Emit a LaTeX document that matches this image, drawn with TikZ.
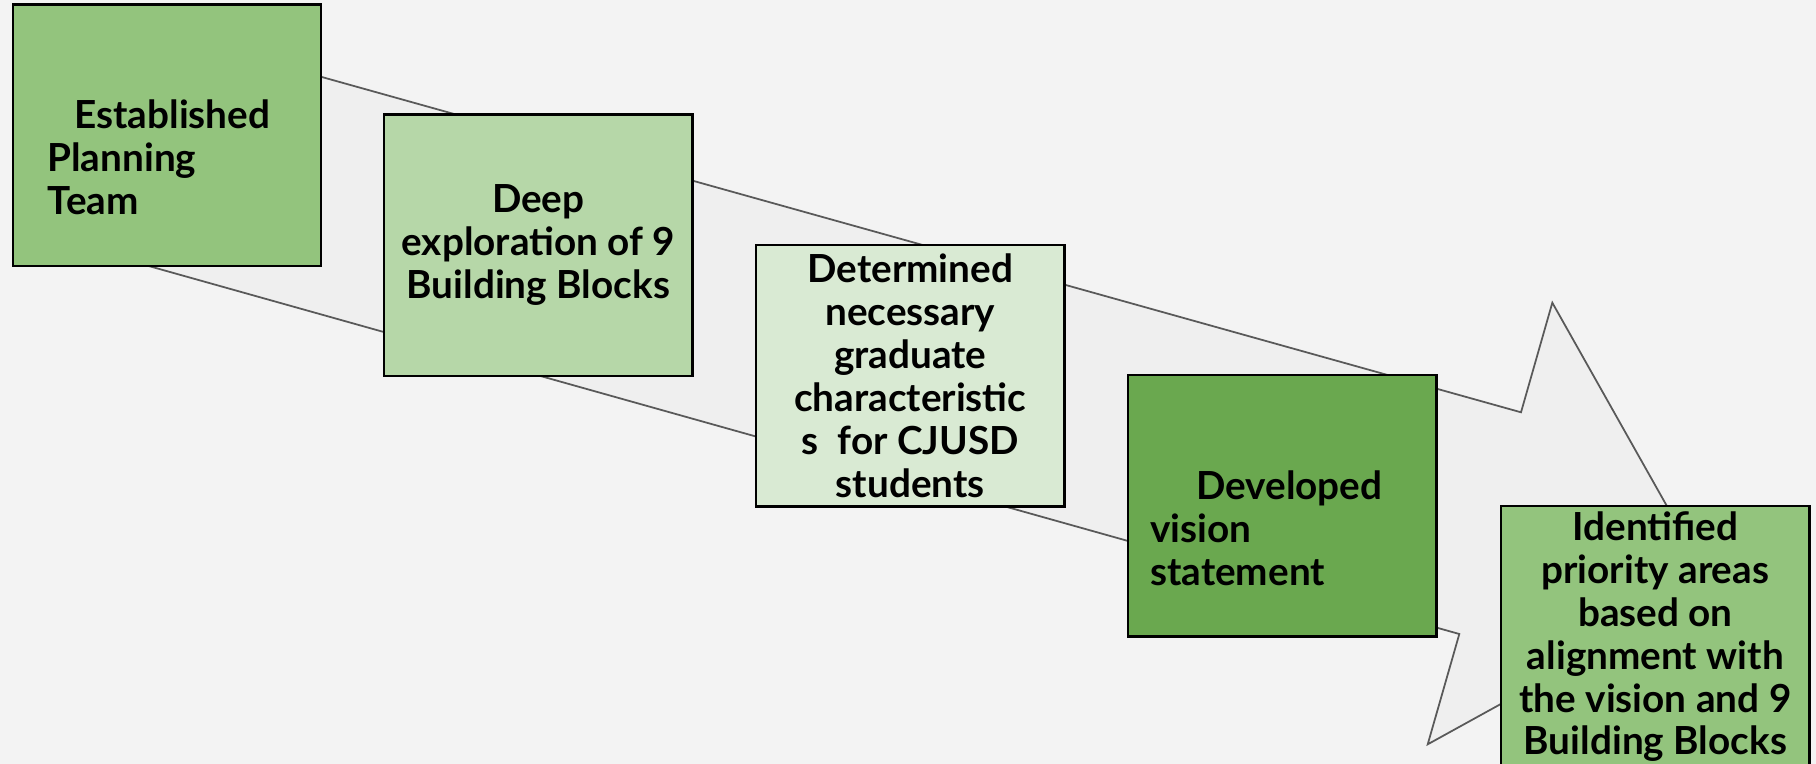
\documentclass[tikz,border=0pt]{standalone}
\usepackage{fontspec}
\setmainfont{Lato}
\usetikzlibrary{positioning}

\definecolor{bgGray}{HTML}{F3F3F3}
\definecolor{arrowFill}{HTML}{EFEFEF}
\definecolor{arrowLine}{HTML}{595959}
\definecolor{greenA}{HTML}{93C47D}
\definecolor{greenB}{HTML}{B6D7A8}
\definecolor{greenC}{HTML}{D9EAD3}
\definecolor{greenD}{HTML}{6AA84F}

\tikzset{
  stepbox/.style={draw=black, line width=0.7pt, anchor=north west,
    minimum width=3.08cm, minimum height=2.61cm, inner ysep=0pt,
    font=\bfseries\fontsize{11}{12.2}\selectfont},
  midbox/.style={stepbox, align=center, inner xsep=0pt},
  leftbox/.style={stepbox, align=left, inner xsep=#1, text width=3.08cm-2*#1},
}

\begin{document}
\begin{tikzpicture}[x=0.01cm, y=-0.01cm]
  \useasboundingbox (0,0) rectangle (1816,764);
  \clip (0,0) rectangle (1816,764);
  \fill[bgGray] (0,0) rectangle (1816,764);

  % Big arrow behind the steps
  \draw[arrowLine, fill=arrowFill, line width=0.5pt, line join=miter]
    (80,9.4) -- (1521,412.3) -- (1552.3,302.7) -- (1712.6,587.2)
    -- (1427.7,744.3) -- (1459.3,634) -- (18.3,229.4) -- cycle;

  % Steps
  \node[leftbox=0.346cm, fill=greenA] (plan) at (11.6,3.5)
    {\strut\\\hspace*{0.27cm}Established\\Planning\\Team};
  \node[midbox, fill=greenB] (blocks) at (383,113.5)
    {Deep\\exploration of 9\\Building Blocks};
  \node[midbox, fill=greenC] (grads) at (755,244)
    {Determined\\necessary\\graduate\\characteristic\\s\ \ for CJUSD\\students};
  \node[leftbox=0.22cm, fill=greenD] (vision) at (1127,374)
    {\strut\\\hspace*{0.46cm}Developed\\vision\\statement};
  \node[midbox, fill=greenA] (areas) at (1500,505)
    {Identified\\priority areas\\based on\\alignment with\\the vision and 9\\Building Blocks};
\end{tikzpicture}
\end{document}
